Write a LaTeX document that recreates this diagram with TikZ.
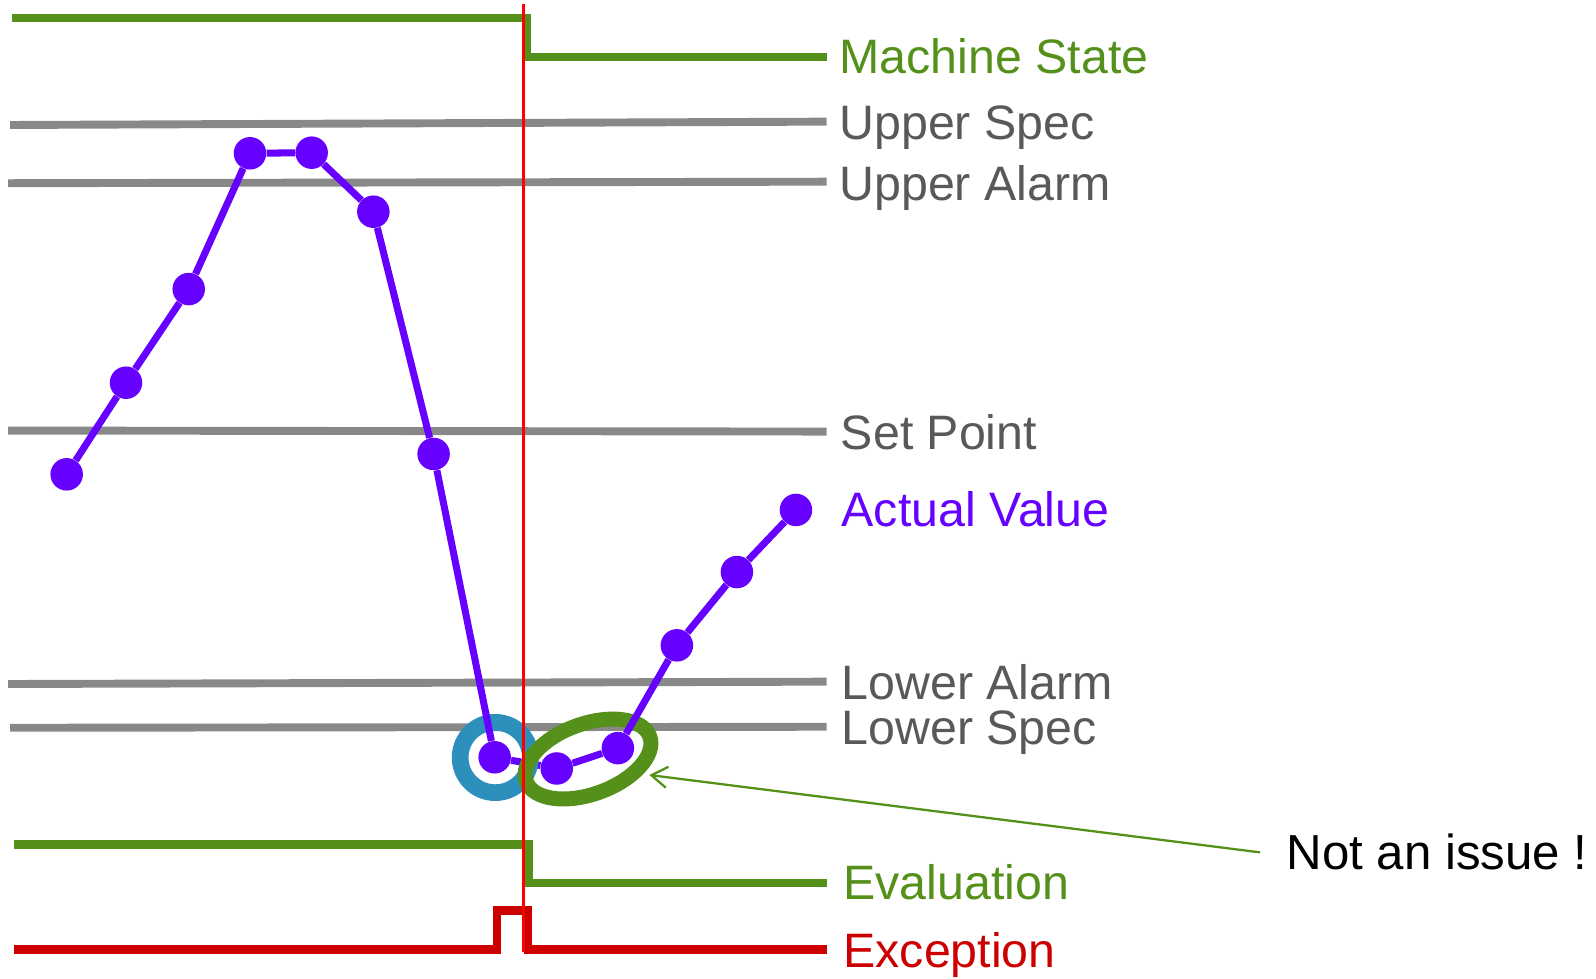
\documentclass[tikz,border=0pt]{standalone}
\usepackage{fontspec}
\setmainfont{Liberation Sans}
\usetikzlibrary{shapes.geometric,arrows.meta}
\definecolor{chartpurple}{RGB}{102,0,255}
\definecolor{chartgrey}{RGB}{136,136,136}
\definecolor{labelgrey}{RGB}{89,89,89}
\definecolor{stategreen}{RGB}{85,145,26}
\definecolor{alertred}{RGB}{204,0,0}
\definecolor{ringblue}{RGB}{44,143,188}
\tikzset{level/.style={line width=4.5pt, color=chartgrey}}
\tikzset{state/.style={line width=5pt, color=stategreen}}
\tikzset{alarm/.style={line width=4.8pt, color=alertred}}
\tikzset{trend/.style={line width=4pt, color=chartpurple}}
\tikzset{dot/.style={circle, fill=chartpurple, inner sep=0pt, minimum size=18.5pt}}
\tikzset{tag/.style={anchor=base west, inner sep=0pt, font=\fontsize{27.5}{32}\selectfont}}
\tikzset{pointer/.style={line width=1.3pt, color=stategreen, -{Straight Barb[length=9pt,width=12pt]}}}

\begin{document}
\begin{tikzpicture}[x=0.020357cm, y=-0.020357cm]%{{{
        \useasboundingbox (0,0) rectangle (1568,961);

        \coordinate (USa) at (10, 122.8);  \coordinate (USb) at (812, 119.5);
        \coordinate (UAa) at (8, 180);     \coordinate (UAb) at (812, 178.5);
        \coordinate (SPa) at (8, 423);     \coordinate (SPb) at (812, 424);
        \coordinate (LAa) at (8, 672);     \coordinate (LAb) at (812, 669.7);
        \coordinate (LSa) at (10, 715);    \coordinate (LSb) at (812, 714);

        \draw [level] (USa) -- (USb);
        \draw [level] (UAa) -- (UAb);
        \draw [level] (SPa) -- (SPb);
        \draw [level] (LAa) -- (LAb);
        \draw [level] (LSa) -- (LSb);

        \node[dot] (P1) at (65.5, 466) {};
        \node[dot] (P2) at (123.8, 376) {};
        \node[dot] (P3) at (185.4, 284) {};
        \node[dot] (P4) at (245.6, 150.6) {};
        \node[dot] (P5) at (306.2, 150) {};
        \node[dot] (P6) at (366.8, 208) {};
        \node[dot] (P7) at (426, 446) {};
        \node[dot] (P8) at (486, 744) {};
        \node[dot] (P9) at (547, 755) {};
        \node[dot] (P10) at (607, 735) {};
        \node[dot] (P11) at (665, 634) {};
        \node[dot] (P12) at (724, 562) {};
        \node[dot] (P13) at (782, 501) {};

        \draw [trend] (P8) -- (P9);

        \node[draw=ringblue, line width=9.5pt, circle, inner sep=0pt, minimum size=40pt] (Nmiss) at (486.6, 744.2) {};
        \node[draw=stategreen, line width=8.5pt, ellipse, inner sep=0pt, minimum width=74.8pt,
              minimum height=40pt, rotate=20] (Nok) at (577.7, 745.7) {};

        \draw [trend] (P1) -- (P2);
        \draw [trend] (P2) -- (P3);
        \draw [trend] (P3) -- (P4);
        \draw [trend] (P4) -- (P5);
        \draw [trend] (P5) -- (P6);
        \draw [trend] (P6) -- (P7);
        \draw [trend] (P7) -- (P8);
        \draw [trend] (P9) -- (P10);
        \draw [trend] (P10) -- (P11);
        \draw [trend] (P11) -- (P12);
        \draw [trend] (P12) -- (P13);

        \coordinate (Ms1) at (12, 17.7);   \coordinate (Ms2) at (517.2, 17.7);
        \coordinate (Ms3) at (517.2, 56);  \coordinate (Ms4) at (812, 56);
        \draw [state] (Ms1) -- (Ms2) -- (Ms3) -- (Ms4);

        \coordinate (Ev1) at (14, 829.6);  \coordinate (Ev2) at (519.7, 829.6);
        \coordinate (Ev3) at (519.7, 867.5); \coordinate (Ev4) at (812, 867.5);
        \draw [state] (Ev1) -- (Ev2) -- (Ev3) -- (Ev4);

        \coordinate (Ex1) at (14, 932.8);  \coordinate (Ex2) at (488, 932.8);
        \coordinate (Ex3) at (488, 894.5); \coordinate (Ex4) at (518.5, 894.5);
        \coordinate (Ex5) at (518.5, 932.8); \coordinate (Ex6) at (812, 932.8);
        \draw [alarm] (Ex1) -- (Ex2) -- (Ex3) -- (Ex4) -- (Ex5) -- (Ex6);

        \node[tag, text=stategreen] (Lms) at (824.5, 72) {Machine State};
        \node[tag, text=labelgrey] (Lus) at (824.3, 137.5) {Upper Spec};
        \node[tag, text=labelgrey] (Lua) at (824.3, 196.5) {Upper Alarm};
        \node[tag, text=labelgrey] (Lsp) at (825.8, 441.4) {Set Point};
        \node[tag, text=chartpurple] (Lav) at (826.5, 517.4) {Actual Value};
        \node[tag, text=labelgrey] (Lla) at (826.5, 687.7) {Lower Alarm};
        \node[tag, text=labelgrey] (Lls) at (826.5, 731.2) {Lower Spec};
        \node[tag, text=stategreen] (Lev) at (828.3, 884.2) {Evaluation};
        \node[tag, text=alertred] (Lex) at (828.3, 950.3) {Exception};

        \node[anchor=base west, inner xsep=15pt, inner ysep=0pt, outer sep=0pt,
              font=\fontsize{28}{33}\selectfont] (Nnote) at (1238, 854.7) {Not an issue !};
        \coordinate (Ntip) at (638, 761.4);
        \draw [pointer] (Nnote.west) -- (Ntip);

        \coordinate (Ra) at (514, 4);
        \coordinate (Rb) at (514, 935);
        \draw [line width=1.6pt, color=red] (Ra) -- (Rb);

   \end{tikzpicture}
\end{document}
